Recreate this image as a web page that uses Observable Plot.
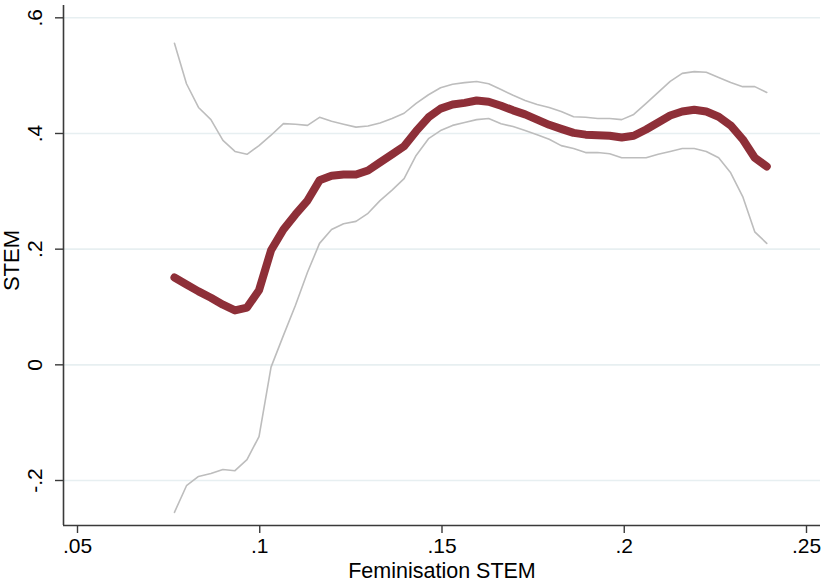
<!DOCTYPE html>
<html>
<head>
<meta charset="utf-8">
<script src="https://cdn.jsdelivr.net/npm/d3@7"></script>
<script src="https://cdn.jsdelivr.net/npm/@observablehq/plot@0.6"></script>
<style>
  html, body { margin: 0; padding: 0; background: #fff; }
  #chart { width: 822px; height: 586px; }
</style>
</head>
<body>
<div id="chart"></div>
<script>
const femStem = [0.0766, 0.0799, 0.0832, 0.0866, 0.0899, 0.0932, 0.0965, 0.0998, 0.1031, 0.1065,
  0.1098, 0.1131, 0.1164, 0.1197, 0.1230, 0.1264, 0.1297, 0.1330, 0.1363, 0.1396,
  0.1429, 0.1463, 0.1496, 0.1529, 0.1562, 0.1595, 0.1628, 0.1662, 0.1695, 0.1728,
  0.1761, 0.1794, 0.1827, 0.1861, 0.1894, 0.1927, 0.1960, 0.1993, 0.2026, 0.2060,
  0.2093, 0.2126, 0.2159, 0.2192, 0.2225, 0.2259, 0.2292, 0.2325, 0.2358, 0.2391];

const fitStem = [0.151, 0.139, 0.127, 0.116, 0.104, 0.094, 0.099, 0.129, 0.198, 0.234,
  0.260, 0.284, 0.319, 0.327, 0.329, 0.329, 0.336, 0.350, 0.364, 0.378,
  0.404, 0.428, 0.443, 0.450, 0.453, 0.457, 0.455, 0.448, 0.440, 0.433,
  0.424, 0.415, 0.408, 0.401, 0.398, 0.397, 0.396, 0.393, 0.396, 0.407,
  0.419, 0.431, 0.438, 0.441, 0.438, 0.429, 0.414, 0.390, 0.358, 0.343];

const upperCI = [0.556, 0.486, 0.445, 0.424, 0.388, 0.369, 0.364, 0.379, 0.397, 0.417,
  0.416, 0.414, 0.428, 0.421, 0.416, 0.411, 0.413, 0.418, 0.426, 0.435,
  0.452, 0.467, 0.479, 0.485, 0.488, 0.490, 0.486, 0.476, 0.466, 0.457,
  0.450, 0.445, 0.438, 0.429, 0.428, 0.426, 0.426, 0.424, 0.433, 0.452,
  0.471, 0.490, 0.504, 0.507, 0.506, 0.497, 0.488, 0.481, 0.481, 0.471];

const lowerCI = [-0.255, -0.209, -0.193, -0.188, -0.181, -0.183, -0.164, -0.124, -0.004, 0.051,
  0.103, 0.160, 0.210, 0.234, 0.244, 0.248, 0.262, 0.284, 0.302, 0.322,
  0.362, 0.391, 0.405, 0.414, 0.419, 0.424, 0.426, 0.417, 0.412, 0.405,
  0.398, 0.390, 0.379, 0.374, 0.367, 0.367, 0.365, 0.358, 0.358, 0.358,
  0.364, 0.369, 0.374, 0.374, 0.369, 0.358, 0.332, 0.291, 0.230, 0.210];

const xTicks = [0.05, 0.1, 0.15, 0.2, 0.25];
const yTicks = [-0.2, 0, 0.2, 0.4, 0.6];
const xLabel = "Feminisation STEM";
const yLabel = "STEM";

const xDomain = [0.04616, 0.25384];
const yDomain = [-0.2778, 0.6213];

const fmt = d => d === 0 ? "0" : String(d).replace("0.", ".");

const data = femStem.map((x, i) => ({x, fit: fitStem[i], lo: lowerCI[i], hi: upperCI[i]}));

const font = "'Liberation Sans', Arial, Helvetica, sans-serif";
const axisColor = "#3a3a3a";

const chart = Plot.plot({
  width: 822,
  height: 586,
  marginLeft: 63,
  marginRight: 2,
  marginTop: 5,
  marginBottom: 61,
  style: {fontFamily: font, fontSize: "20px", background: "#fff", color: "#000"},
  x: {domain: xDomain},
  y: {domain: yDomain},
  marks: [
    Plot.gridY(yTicks, {stroke: "#e7eff1", strokeOpacity: 1, strokeWidth: 1.6}),
    Plot.line(data, {x: "x", y: "hi", stroke: "#bdbdbd", strokeWidth: 1.6}),
    Plot.line(data, {x: "x", y: "lo", stroke: "#bdbdbd", strokeWidth: 1.6}),
    Plot.line(data, {x: "x", y: "fit", stroke: "#8e2f38", strokeWidth: 8, strokeLinecap: "round", strokeLinejoin: "round"}),
    Plot.ruleX([xDomain[0]], {stroke: axisColor, strokeWidth: 1.6}),
    Plot.ruleY([yDomain[0]], {stroke: axisColor, strokeWidth: 1.6}),
    Plot.axisY(yTicks, {tickSize: 8, text: null, label: null, stroke: axisColor, strokeWidth: 1.4}),
    Plot.text(yTicks, {y: d => d, text: fmt, frameAnchor: "left", dx: -28, rotate: -90,
      textAnchor: "middle", lineAnchor: "middle", fontSize: 21, fill: "#000"}),
    Plot.axisX(xTicks, {tickSize: 8, tickPadding: 5, tickFormat: fmt, label: null,
      stroke: axisColor, strokeWidth: 1.4, fontSize: 21, fill: "#000"}),
    Plot.text([xLabel], {frameAnchor: "bottom", dy: 37, lineAnchor: "top", fontSize: 21.5, fill: "#000"}),
    Plot.text([yLabel], {frameAnchor: "left", dx: -52, dy: -5, rotate: -90, textAnchor: "middle",
      lineAnchor: "middle", fontSize: 22, fill: "#000"})
  ]
});
document.getElementById("chart").appendChild(chart);
</script>
</body>
</html>
